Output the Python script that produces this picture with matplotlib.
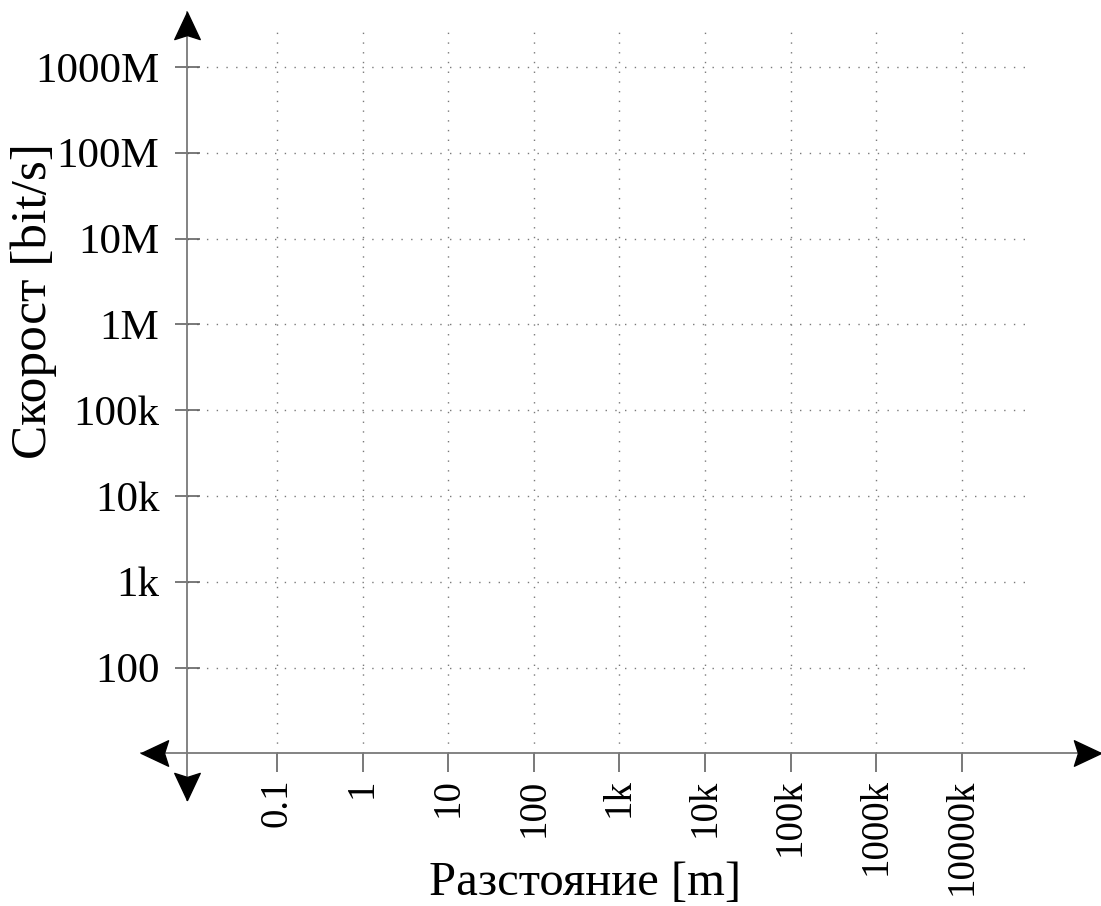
import numpy as np
import matplotlib
matplotlib.use("Agg")
import matplotlib.pyplot as plt
from matplotlib.path import Path
from matplotlib.markers import MarkerStyle
from matplotlib.transforms import Affine2D, blended_transform_factory

plt.rcParams['font.family'] = ['Liberation Serif', 'DejaVu Serif']

# ---- data (tick values and labels) ----
x_ticks = [0.1, 1, 10, 100, 1e3, 1e4, 1e5, 1e6, 1e7]
x_labels = ["0.1", "1", "10", "100", "1k", "10k", "100k", "1000k", "10000k"]
y_ticks = [1e2, 1e3, 1e4, 1e5, 1e6, 1e7, 1e8, 1e9]
y_labels = ["100", "1k", "10k", "100k", "1M", "10M", "100M", "1000M"]
x_title = "Разстояние [m]"
y_title = "Скорост [bit/s]"

W, H = 1101, 906
fig = plt.figure(figsize=(W / 100, H / 100), dpi=100)
# axes box spans the arrow tips
left_px, right_px, top_px, bot_px = 141, 1101, 12, 800
ax = fig.add_axes([left_px / W, 1 - bot_px / H, (right_px - left_px) / W, (bot_px - top_px) / H])
ax.set_xscale('log')
ax.set_yscale('log')
ax.set_xlim(10 ** -2.589, 10 ** 8.626)
ax.set_ylim(10 ** 0.456, 10 ** 9.640)

x0 = 10 ** -2.05   # where the vertical axis crosses
y0 = 10.0          # where the horizontal axis crosses

axis_col = '#7a7a7a'
for s in ['top', 'right']:
    ax.spines[s].set_visible(False)
ax.spines['left'].set_position(('data', x0))
ax.spines['bottom'].set_position(('data', y0))
for s in ['left', 'bottom']:
    ax.spines[s].set_color(axis_col)
    ax.spines[s].set_linewidth(1.3)

ax.set_xticks(x_ticks)
ax.set_xticklabels(x_labels, rotation=90)
ax.set_yticks(y_ticks)
ax.set_yticklabels(y_labels)
ax.minorticks_off()
ax.tick_params(axis='x', direction='out', length=14, width=1.1, color='#555555',
               pad=4, labelsize=28)
ax.tick_params(axis='y', direction='inout', length=18, width=1.1, color='#555555',
               pad=11, labelsize=31)

# dotted grid (limited extent)
grid_top = 10 ** 9.43
grid_right = 10 ** 7.76
ax.vlines(x_ticks, y0, grid_top, colors='#7a7a7a', linewidth=1.0,
          linestyles=[(0, (1, 6))], zorder=1)
ax.hlines(y_ticks, x0, grid_right, colors='#7a7a7a', linewidth=1.0,
          linestyles=[(0, (1, 6))], zorder=1)

# stealth-like arrow marker, tip at origin pointing +x
verts = [(0, 0), (-1.0, 0.47), (-0.85, 0.0), (-1.0, -0.47), (0, 0)]
codes = [Path.MOVETO, Path.LINETO, Path.LINETO, Path.LINETO, Path.CLOSEPOLY]
arrow = Path(verts, codes)

def arrow_marker(angle):
    return MarkerStyle(arrow, transform=Affine2D().rotate_deg(angle))

ms = 39
tx = blended_transform_factory(ax.transAxes, ax.transData)
ty = blended_transform_factory(ax.transData, ax.transAxes)
ax.plot([1.0], [y0], marker=arrow_marker(0), ms=ms, color='black', transform=tx, clip_on=False, zorder=5)
ax.plot([0.0], [y0], marker=arrow_marker(180), ms=ms, color='black', transform=tx, clip_on=False, zorder=5)
ax.plot([x0], [1.0], marker=arrow_marker(90), ms=ms, color='black', transform=ty, clip_on=False, zorder=5)
ax.plot([x0], [0.0], marker=arrow_marker(270), ms=ms, color='black', transform=ty, clip_on=False, zorder=5)

# axis titles
fig.text(585 / W, 1 - 895 / H, x_title, fontsize=35, ha='center', va='baseline')
fig.text(34 / W, 1 - 301 / H, y_title, fontsize=37, ha='center', va='center', rotation=90)

fig.savefig("out.png", dpi=100)
